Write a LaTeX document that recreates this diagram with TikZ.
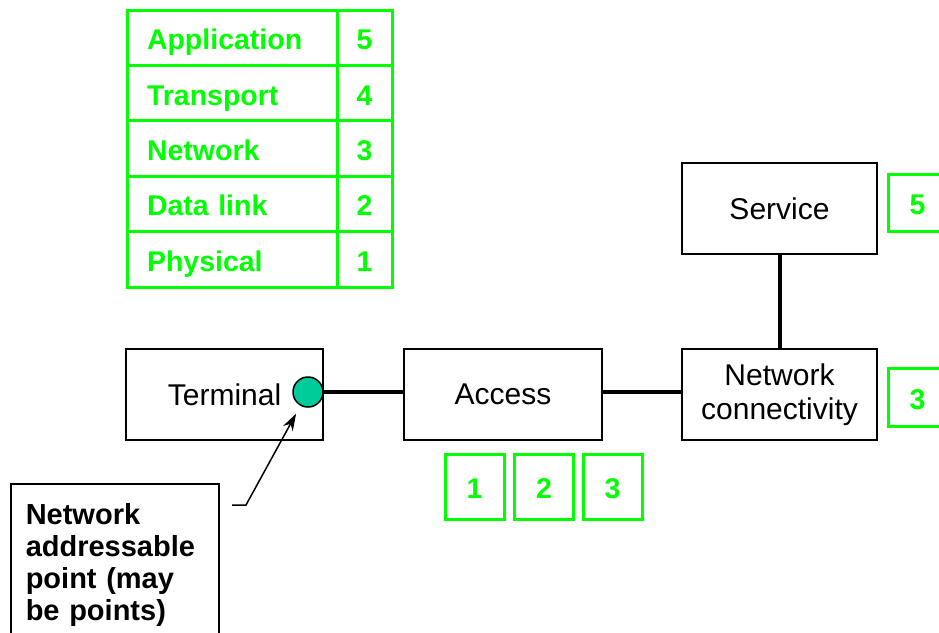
\documentclass[tikz,border=0pt]{standalone}
\usepackage{fontspec}
\setmainfont{Liberation Sans}
\usetikzlibrary{arrows.meta}
\definecolor{layergreen}{RGB}{0,255,0}
\definecolor{napteal}{RGB}{0,204,153}
\begin{document}
\begin{tikzpicture}[x=1pt,y=-1pt]
    \tikzstyle{cell}=[draw=layergreen, line width=3pt, text=layergreen,
                      font=\fontsize{28.5}{31.5}\selectfont\bfseries,
                      minimum height=55.4pt, inner sep=0pt,
                      text height=24pt, text depth=0pt]
    \tikzstyle{layer}=[cell, text width=170pt, inner xsep=20pt, align=left]
    \tikzstyle{num}=[cell, minimum width=55pt]
    \tikzstyle{tag}=[cell, minimum width=59pt]
    \tikzstyle{blk}=[draw, line width=1.5pt, inner sep=0pt, align=center,
                     font=\fontsize{30}{34}\selectfont]
    \tikzstyle{dot}=[circle, draw, line width=1.5pt, fill=napteal,
                     inner sep=0pt, minimum size=30pt]
    \useasboundingbox (0,0) rectangle (939,632);
    \clip (0,0) rectangle (939,632);

    % layer stack
    \node[layer] (app)  at (232,37.7)  {Application};
    \node[num]   (n5)   at (364.5,37.7) {5};
    \node[layer] (trn)  at (232,93.1)  {Transport};
    \node[num]   (n4)   at (364.5,93.1) {4};
    \node[layer] (net)  at (232,148.5) {Network};
    \node[num]   (n3)   at (364.5,148.5) {3};
    \node[layer] (dl)   at (232,203.9) {Data link};
    \node[num]   (n2)   at (364.5,203.9) {2};
    \node[layer] (phy)  at (232,259.3) {Physical};
    \node[num]   (n1)   at (364.5,259.3) {1};

    % boxes
    \node[blk, minimum width=197pt, minimum height=91pt] (term) at (224.5,394.5) {Terminal};
    \node[dot] (nap) at (308,392) {};
    \node[blk, minimum width=198pt, minimum height=91pt] (acc) at (503,394.5) {Access};
    \node[blk, minimum width=195pt, minimum height=91pt] (nc) at (779.5,394.5) {Network\\connectivity};
    \node[blk, minimum width=195pt, minimum height=91pt] (srv) at (779.5,208.5) {Service};

    \node[tag, minimum height=57pt] (s5) at (917.5,202.5) {5};
    \node[tag, minimum height=58pt] (c3) at (917.5,397) {3};
    \node[tag, minimum height=65pt] (a1) at (474.5,486.5) {1};
    \node[tag, minimum height=65pt] (a2) at (544,486.5) {2};
    \node[tag, minimum height=65pt] (a3) at (612.5,486.5) {3};

    \node[blk, anchor=north west, text width=178pt, inner xsep=15pt, inner ysep=20pt,
          align=left, font=\fontsize{29}{32}\selectfont\bfseries] (note) at (10,483)
          {Network\\addressable\\point (may\\be points)};
    \coordinate (elbow) at (232,505);

    \draw[line width=4pt] (nap) -- (nap -| acc.west)
                          (acc.east |- nap) -- (nc.west |- nap)
                          (srv) -- (nc);
    \draw[line width=1.5pt, -{Stealth[length=17pt,width=11pt]}, shorten >=9pt]
          (elbow) -- ++(14,0) -- (nap);
\end{tikzpicture}
\end{document}
